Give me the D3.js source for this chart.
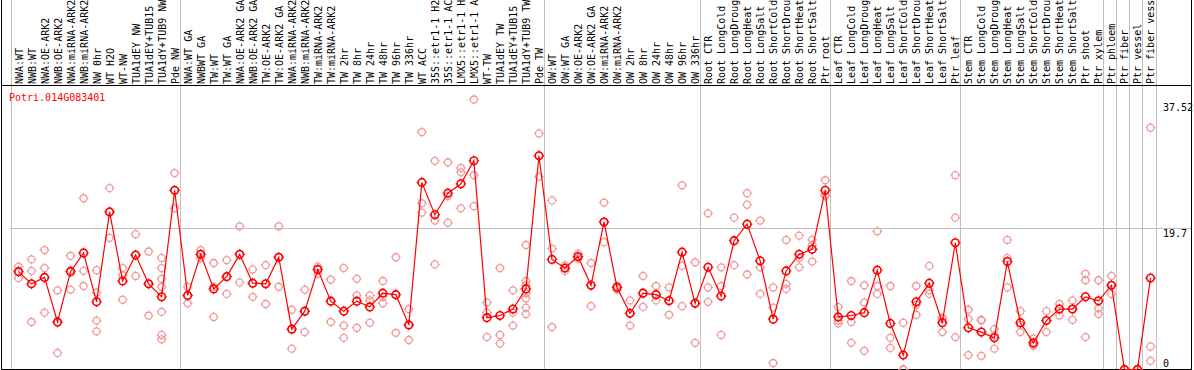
<!DOCTYPE html>
<html>
<head>
<meta charset="utf-8">
<script src="https://cdn.jsdelivr.net/npm/d3@7"></script>
<style>
body{margin:0;background:#fff;}
text{font-family:"DejaVu Sans Mono",monospace;font-size:10px;}
</style>
</head>
<body>
<svg id="chart" width="1194" height="370"></svg>
<script>
const gene="Potri.014G083401";

// sample names as printed in the header (cut to 14 characters there)
const samples=["NWA:WT","NWB:WT","NWA:OE-ARK2","NWB:OE-ARK2","NWA:miRNA-ARK2","NWB:miRNA-ARK2","NW 0hr","WT H2O","WT-NW","TUA1dEY NW","TUA1dEY+TUB15","TUA1dY+TUB9 NW","Pde NW",
"NWA:WT GA","NWBWT GA","TW:WT","TW:WT GA","NWA:OE-ARK2 GA","NWB:OE-ARK2 GA","TW:OE-ARK2","TW:OE-ARK2 GA","NWA:miRNA-ARK2","NWB:miRNA-ARK2","TW:miRNA-ARK2","TW:miRNA-ARK2",
"TW 2hr","TW 8hr","TW 24hr","TW 48hr","TW 96hr","TW 336hr","WT ACC","35S::etr1-1 H2","35S::etr1-1 AC","LMX5::etr1-1 H","LMX5::etr1-1 A","WT-TW","TUA1dEY TW","TUA1dEY+TUB15","TUA1dY+TUB9 TW","Pde TW",
"OW:WT","OW:WT GA","OW:OE-ARK2","OW:OE-ARK2 GA","OW:miRNA-ARK2","OW:miRNA-ARK2","OW 2hr","OW 8hr","OW 24hr","OW 48hr","OW 96hr","OW 336hr",
"Root CTR","Root LongCold","Root LongDroug","Root LongHeat","Root LongSalt","Root ShortCold","Root ShortDrou","Root ShortHeat","Root ShortSalt","Ptr root",
"Leaf CTR","Leaf LongCold","Leaf LongDroug","Leaf LongHeat","Leaf LongSalt","Leaf ShortCold","Leaf ShortDrou","Leaf ShortHeat","Leaf ShortSalt","Ptr leaf",
"Stem CTR","Stem LongCold","Stem LongDroug","Stem LongHeat","Stem LongSalt","Stem ShortCold","Stem ShortDrou","Stem ShortHeat","Stem ShortSalt","Ptr shoot","Ptr xylem",
"Ptr phloem","Ptr fiber","Ptr vessel","Ptr fiber vess"];

// mean expression per sample (red line)
const means=[13.6,11.9,12.8,6.6,13.6,16.2,9.4,21.9,12.3,15.9,11.9,10.1,24.9,
10.3,16.0,11.2,12.9,16.0,12.0,11.9,15.6,5.6,8.1,13.9,9.5,
8.1,9.5,8.7,10.6,10.4,6.2,26.0,21.5,24.5,25.8,29.0,7.2,7.5,8.4,11.2,29.7,
15.3,14.1,15.7,11.7,20.5,11.4,7.8,10.6,10.4,9.55,16.3,9.2,
14.2,10.2,17.9,20.2,15.1,7.0,13.7,16.0,16.7,24.9,
7.3,7.5,7.9,13.8,6.4,2.0,9.4,12.0,6.5,17.6,
5.8,5.2,4.4,15.0,6.5,3.7,6.8,8.4,8.4,10.1,9.55,
11.7,0,0,12.7];

// individual replicates (pale circles)
const reps=[[14.3,13.7,12.7],[15.3,13.7,6.6],[16.6,14.1,7.9],[11.0,6.5,2.3],[15.8,13.8,11.1],[23.8,13.7,11.6],[13.8,10.7,6.8,5.3],[25.2,21.9,18.3],[14.1,13.1,9.7],[18.8,15.9,13.0],[16.4,11.9,7.5],[15.5,14.1,12.6,11.5,8.0,4.8,4.2],[27.3,24.9,22.4],
[11.5,10.3,9.2],[16.6,16.0,15.5],[14.8,11.5,7.3],[15.2,12.9,10.5],[19.9,16.0,12.1],[13.9,12.0,10.1],[14.5,11.9,9.1],[19.9,15.6,11.5],[8.3,5.6,2.9],[11.1,8.1,5.2],[14.3,13.9,13.3],[12.5,9.5,6.6],
[14.1,6.1,4.4],[12.6,10.3,5.8],[10.3,9.6,6.5],[12.3,10.1,9.2],[15.6,10.4,5.1],[8.4,6.2,4.1],[33.0,23.1,21.8],[29.0,20.7,14.6],[28.8,24.1,20.4],[28.0,27.4,22.4],[37.52,27.0,22.7],[9.3,7.9,4.5],[14.1,4.8,3.6],[11.0,7.9,6.1],[17.3,12.3,11.7,10.6,9.9,8.6,7.7],[32.8,29.7,26.8],
[23.5,16.8,5.9],[14.5,14.1,13.7],[16.1,15.6,15.4],[14.8,11.7,8.8],[23.2,20.5,17.7],[11.6,11.4,11.1],[9.6,7.8,6.1],[13.0,10.6,8.7],[11.6,10.4,9.6],[11.4,9.6,7.6],[25.6,14.4,8.8],[14.9,9.2,3.7],
[21.7,11.4,9.4],[14.2,11.6,4.8],[21.1,17.9,14.5],[24.5,22.9,13.2],[20.7,14.2,10.5],[11.4,8.6,0.9],[18.0,11.9,11.2],[18.6,15.5,14.2],[18.0,17.3,15.0],[26.3,24.3,24.1],
[8.7,6.8,6.4],[12.3,6.6,3.7],[11.7,9.3,2.6],[19.2,11.6,10.5],[11.6,4.4,3.0],[6.5,0,0],[11.6,9.0,7.6],[14.4,11.0,10.5],[7.2,7.0,5.2],[27.0,21.1,4.5],
[8.3,7.0,2.0],[6.9,6.8,1.9],[5.6,4.7,2.9],[18.0,15.5,11.4],[8.1,6.2,5.2],[4.3,3.5,3.3],[8.1,6.8,5.2],[9.1,8.4,7.5],[9.6,8.4,6.9],[13.3,12.4,4.5],[12.4,8.5,7.7],
[13.0,11.7,10.5],[0,0,0],[0,0,0],[33.6,3.2,1.2]];

// index of first sample of each group (grey separators)
const groupStarts=[0,13,41,53,63,73,84,85,86,87,88];
const yLabels=[37.52,19.7,0];
const yGrid=[19.7];

const W=1194,H=370;
const svg=d3.select('#chart');

const x=d3.scaleBand().domain(d3.range(samples.length)).range([10.5,1155.5]);
const px=i=>x(i)+8;
const y=d3.scaleLinear().domain([0,37.52]).range([369.5,99.5]);

// grey separators
svg.append('g').selectAll('line').data(groupStarts).join('line')
  .attr('x1',d=>Math.round(10.5+d*x.step())+0.5).attr('x2',d=>Math.round(10.5+d*x.step())+0.5)
  .attr('y1',0).attr('y2',H)
  .attr('stroke','#c0c0c0').attr('shape-rendering','crispEdges');

svg.append('g').selectAll('line').data(yGrid).join('line')
  .attr('x1',10).attr('x2',1192)
  .attr('y1',d=>Math.round(y(d))+0.5).attr('y2',d=>Math.round(y(d))+0.5)
  .attr('stroke','#c0c0c0').attr('shape-rendering','crispEdges');

// header labels
svg.append('g').selectAll('text').data(samples).join('text')
  .attr('transform',(d,i)=>'translate('+(px(i)+4)+',84) rotate(-90)')
  .attr('fill','#000')
  .text(d=>d);

// frame
svg.append('line').attr('x1',1).attr('x2',1192).attr('y1',85.5).attr('y2',85.5)
  .attr('stroke','#000').attr('shape-rendering','crispEdges');
svg.append('path').attr('d','M1.5,-2V369.5H1191.5V-2')
  .attr('fill','none').attr('stroke','#000').attr('shape-rendering','crispEdges');

svg.append('text').attr('x',9).attr('y',101).attr('fill','#ff0000').text(gene);

svg.append('g').selectAll('text').data(yLabels).join('text')
  .attr('x',1163)
  .attr('y',(d,i)=>d===0?y(d)-3:y(d)+(i===0?11.5:9.5))
  .attr('fill','#000')
  .text(d=>d);

const plot=svg.append('g');

// tiny ticks round each marker, like the pixel circles of the original
function marker(g,cx,cy,r,color,w){
  g.append('circle').attr('cx',cx).attr('cy',cy).attr('r',r)
    .attr('fill','none').attr('stroke',color).attr('stroke-width',w);
  g.append('path')
    .attr('d','M'+cx+','+(cy-r-1.5)+'v1.5M'+cx+','+(cy+r)+'v1.5M'+(cx-r-1.5)+','+cy+'h1.5M'+(cx+r)+','+cy+'h1.5')
    .attr('stroke',color).attr('stroke-width',1);
}

const repPts=[];
reps.forEach((arr,i)=>arr.forEach(v=>repPts.push([i,v])));
const repG=plot.append('g');
repPts.forEach(([i,v])=>marker(repG,px(i),y(v),3.5,'#f09898',1.3));

const line=d3.line().x((d,i)=>px(i)).y(d=>y(d));
plot.append('path').datum(means).attr('d',line)
  .attr('fill','none').attr('stroke','#ff0000').attr('stroke-width',1.2);

const meanG=plot.append('g');
means.forEach((v,i)=>marker(meanG,px(i),y(v),3.8,'#ff0000',1.6));
</script>
</body>
</html>
